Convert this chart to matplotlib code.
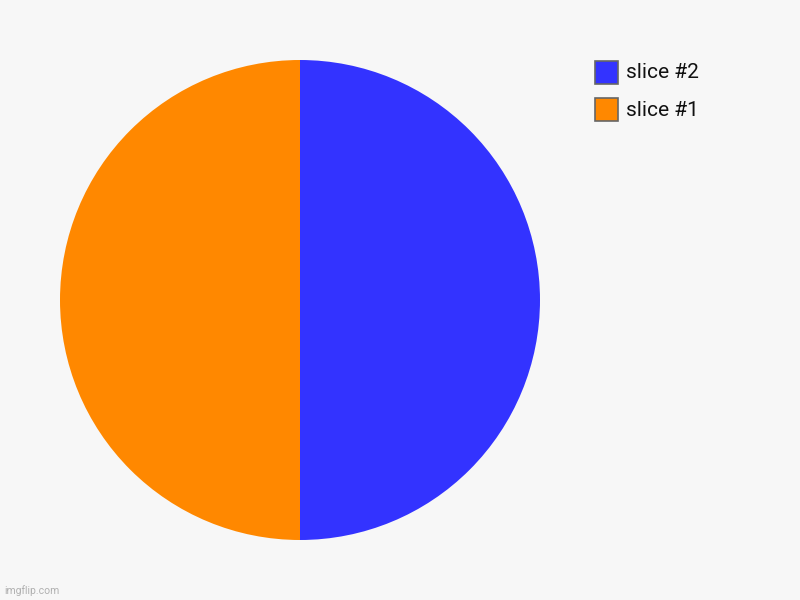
import matplotlib.pyplot as plt
from matplotlib.patches import Rectangle

# data
labels = ['slice #2', 'slice #1']
values = [50, 50]
colors = ['#3333ff', '#ff8800']

fig = plt.figure(figsize=(8, 6), dpi=100)
fig.patch.set_facecolor('#f7f7f7')

# pie centred at (300,300) px, radius 240 px
ax = fig.add_axes([60/800, 60/600, 480/800, 480/600])
ax.pie(values, colors=colors, startangle=90, counterclock=False, radius=1,
       wedgeprops=dict(linewidth=0))
ax.set_xlim(-1, 1)
ax.set_ylim(-1, 1)
ax.set_aspect('equal')
ax.axis('off')

# legend drawn by hand
for i, (lab, col) in enumerate(zip(labels, colors)):
    y_top = 61 + i * 37
    fig.patches.append(Rectangle((595/800, 1 - (y_top + 23)/600), 23/800, 23/600,
                                 transform=fig.transFigure, facecolor=col,
                                 edgecolor='#666666', linewidth=1.2))
    fig.text(626/800, 1 - (y_top + 12)/600, lab, fontsize=15, family='Roboto',
             color='#111111', va='center', ha='left')

fig.text(4/800, 1 - 591/600, 'imgflip.com', fontsize=7.5, family='Roboto',
         color='#b0b0b0', va='center', ha='left')

fig.savefig('out.png', dpi=100, facecolor=fig.get_facecolor())
